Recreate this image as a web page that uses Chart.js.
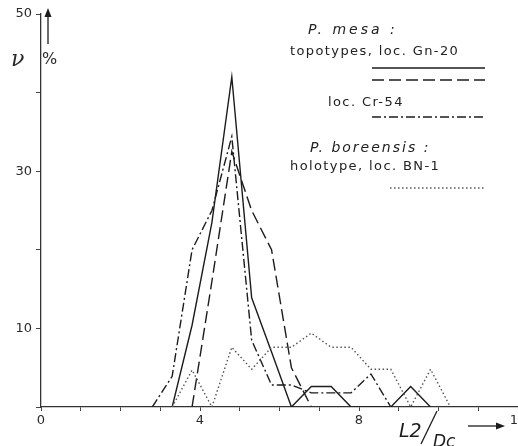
<!DOCTYPE html>
<html>
<head>
<meta charset="utf-8">
<script src="https://cdn.jsdelivr.net/npm/chart.js@4.4.1/dist/chart.umd.min.js"></script>
<style>
  body { margin: 0; background: #fff; }
  #wrap { width: 518px; height: 446px; position: relative; }
</style>
</head>
<body>
<div id="wrap"><canvas id="chart"></canvas></div>
<script>
// class midpoints of L2/Dc
const classes = [2.8, 3.3, 3.8, 4.3, 4.8, 5.3, 5.8, 6.3, 6.8, 7.3, 7.8, 8.3, 8.8, 9.3, 9.8, 10.3];
// frequency in % for each class (null = not drawn)
const gn20a = [null, 0, 10.4, 23.5, 42, 13.9, 7, 0, 2.6, 2.6, 0, 0, 0, 2.6, 0, null];
const gn20b = [null, null, 0, 16, 32.5, 25, 20, 5, 0, null, null, null, null, null, null, null];
const cr54  = [0, 3.9, 20, 25, 34.4, 8.5, 2.8, 2.8, 1.8, 1.8, 1.8, 4.2, 0, null, null, null];
const bn1   = [null, 0, 4.7, 0, 7.6, 4.8, 7.6, 7.6, 9.4, 7.6, 7.6, 4.8, 4.8, 0, 4.8, 0];

const xLabels = [0, 4, 8, 12];
const yLabels = [10, 30, 50];

const ink = '#1c1c1c';
const dashLong = [12, 5];
const dashDot = [9, 3, 2, 3];
const dotted = [1.5, 2.5];

function pts(arr) {
  let out = [];
  for (let i = 0; i < classes.length; i++) {
    if (arr[i] !== null) out.push({x: classes[i], y: arr[i]});
  }
  return out;
}

function txt(ctx, s, x, y, font, spacing) {
  ctx.font = font;
  ctx.letterSpacing = spacing + 'px';
  ctx.fillText(s, x, y);
  ctx.letterSpacing = '0px';
}

function seg(ctx, x1, y1, x2, y2, dash, color) {
  ctx.save();
  ctx.strokeStyle = color || ink;
  ctx.lineWidth = 1.3;
  ctx.setLineDash(dash);
  ctx.beginPath();
  ctx.moveTo(x1, y1);
  ctx.lineTo(x2, y2);
  ctx.stroke();
  ctx.restore();
}

const extras = {
  id: 'extras',
  afterDraw(chart) {
    const ctx = chart.ctx;
    const xs = chart.scales.x;
    const ys = chart.scales.y;
    ctx.save();
    ctx.fillStyle = '#2a2a2a';
    ctx.textBaseline = 'middle';
    ctx.textAlign = 'center';
    xLabels.forEach(v => {
      txt(ctx, String(v), xs.getPixelForValue(v), 421, '13px "DejaVu Sans"', 0);
    });

    // y axis: nu %, arrow
    ctx.textAlign = 'left';
    txt(ctx, 'ν', 11, 60, 'italic 22px "DejaVu Serif"', 0);
    txt(ctx, '%', 42, 60, '16px "DejaVu Sans"', 0);
    seg(ctx, 48, 44, 48, 16, [], ink);
    ctx.fillStyle = ink;
    ctx.beginPath();
    ctx.moveTo(48, 8); ctx.lineTo(44.5, 17); ctx.lineTo(51.5, 17); ctx.closePath(); ctx.fill();

    // x axis title L2/Dc with arrow
    ctx.textBaseline = 'alphabetic';
    txt(ctx, 'L2', 399, 437, 'italic 19px "DejaVu Sans"', 0);
    seg(ctx, 421, 444, 437, 411, [], ink);
    txt(ctx, 'Dc', 433, 447, 'italic 17px "DejaVu Sans"', 0);
    seg(ctx, 468, 426, 498, 426, [], ink);
    ctx.beginPath();
    ctx.moveTo(505, 426); ctx.lineTo(496, 422.5); ctx.lineTo(496, 429.5); ctx.closePath(); ctx.fill();

    // legend
    ctx.textBaseline = 'middle';
    ctx.fillStyle = '#222';
    txt(ctx, 'P. mesa :', 308, 30, 'italic 14px "DejaVu Sans"', 3);
    txt(ctx, 'topotypes, loc. Gn-20', 290, 52, '13px "DejaVu Sans"', 1.4);
    seg(ctx, 372, 68, 485, 68, [], ink);
    seg(ctx, 372, 80, 485, 80, dashLong, ink);
    txt(ctx, 'loc. Cr-54', 328, 102.5, '13px "DejaVu Sans"', 1.4);
    seg(ctx, 372, 117, 485, 117, dashDot, ink);
    txt(ctx, 'P. boreensis :', 310, 148, 'italic 14px "DejaVu Sans"', 2);
    txt(ctx, 'holotype, loc. BN-1', 290, 167, '13px "DejaVu Sans"', 1.4);
    seg(ctx, 390, 188, 485, 188, dotted, '#555');
    ctx.restore();
  }
};

const ds = (label, arr, dash, color) => ({
  label: label,
  data: pts(arr),
  borderColor: color,
  borderWidth: 1.4,
  borderDash: dash,
  pointRadius: 0,
  tension: 0,
  fill: false,
});

new Chart(document.getElementById('chart'), {
  type: 'line',
  data: {
    datasets: [
      ds('holotype, loc. BN-1', bn1, dotted, '#555'),
      ds('loc. Cr-54', cr54, dashDot, ink),
      ds('topotypes, loc. Gn-20 (b)', gn20b, dashLong, ink),
      ds('topotypes, loc. Gn-20', gn20a, [], ink),
    ],
  },
  options: {
    responsive: true,
    maintainAspectRatio: false,
    animation: false,
    layout: { padding: { top: 14, right: 0, bottom: 0, left: 0 } },
    plugins: { legend: { display: false }, tooltip: { enabled: false } },
    scales: {
      x: {
        type: 'linear',
        min: 0,
        max: 12,
        ticks: { stepSize: 1, display: false },
        grid: { drawOnChartArea: false, drawTicks: true, tickLength: 4, color: '#444' },
        border: { color: '#333', width: 1.3 },
        afterFit(scale) { scale.height = 39; },
      },
      y: {
        min: 0,
        max: 50,
        ticks: {
          stepSize: 10,
          padding: 4,
          color: '#2a2a2a',
          font: { family: 'DejaVu Sans', size: 13 },
          callback: v => yLabels.includes(v) ? String(v) : '',
        },
        grid: { drawOnChartArea: false, tickLength: 5, color: '#444' },
        border: { color: '#333', width: 1.3 },
        afterFit(scale) { scale.width = 41; },
      },
    },
  },
  plugins: [extras],
});
</script>
</body>
</html>
